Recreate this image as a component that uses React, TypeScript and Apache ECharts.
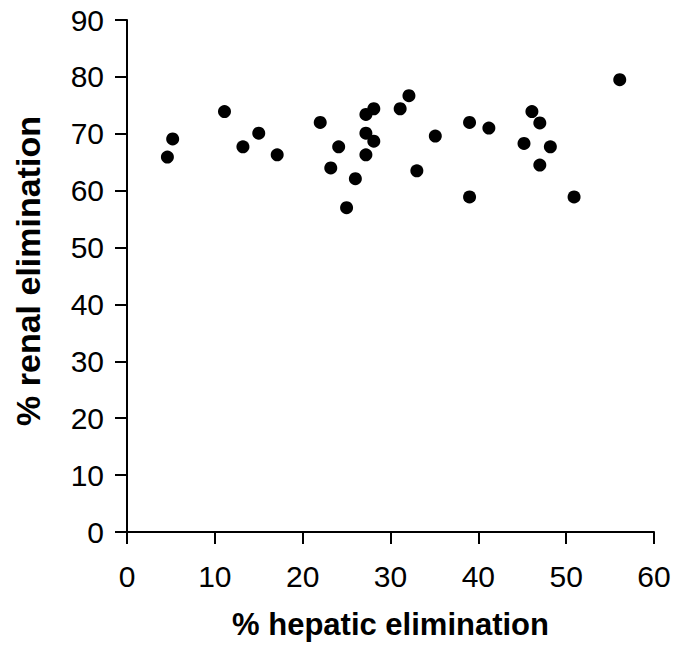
import React, { useEffect, useRef } from "react";
import * as echarts from "echarts";

// Percentage of elimination through the liver (x) and kidneys (y), one entry per compound
const hepatic: number[] = [
  4.6, 5.2, 11.1, 13.2, 15.0, 17.1, 22.0, 24.1, 23.2, 26.0, 25.0, 27.2, 28.1, 27.2, 28.1,
  27.2, 31.1, 32.1, 35.1, 33.0, 39.0, 39.0, 41.2, 46.1, 47.0, 45.2, 48.2, 47.0, 50.9, 56.1,
];
const renal: number[] = [
  65.9, 69.1, 73.9, 67.7, 70.1, 66.3, 72.0, 67.7, 64.0, 62.1, 57.0, 73.4, 74.4, 70.1, 68.7,
  66.3, 74.4, 76.7, 69.6, 63.5, 72.0, 58.9, 71.0, 73.9, 71.9, 68.3, 67.7, 64.5, 58.9, 79.5,
];

const xTicks = { min: 0, max: 60, interval: 10 };
const yTicks = { min: 0, max: 90, interval: 10 };

const FONT = "'Liberation Sans', Arial, Helvetica, sans-serif";

export default function App() {
  const ref = useRef<HTMLDivElement>(null);

  useEffect(() => {
    if (!ref.current) return;
    const chart = echarts.init(ref.current, undefined, { renderer: "svg" });
    const points = hepatic.map((h, i) => [h, renal[i]]);

    const axisCommon = {
      axisLine: { show: true, onZero: false, lineStyle: { color: "#000", width: 2 } },
      axisTick: { show: true, inside: false, length: 12, lineStyle: { color: "#000", width: 2 } },
      splitLine: { show: false },
      nameLocation: "middle" as const,
    };

    chart.setOption({
      animation: false,
      backgroundColor: "#fff",
      grid: { left: 127, right: 21, top: 20, bottom: 114, containLabel: false },
      xAxis: {
        type: "value",
        ...xTicks,
        ...axisCommon,
        name: "% hepatic elimination",
        nameGap: 77,
        nameTextStyle: { fontFamily: FONT, fontSize: 31, fontWeight: "bold", color: "#000" },
        axisLabel: { fontFamily: FONT, fontSize: 30, color: "#000", margin: 29 },
      },
      yAxis: {
        type: "value",
        ...yTicks,
        ...axisCommon,
        name: "% renal elimination",
        nameGap: 82,
        nameTextStyle: {
          fontFamily: FONT,
          fontSize: 34,
          fontWeight: "bold",
          color: "#000",
          padding: [0, 0, 0, 10],
        },
        axisLabel: { fontFamily: FONT, fontSize: 30, color: "#000", margin: 23 },
      },
      series: [
        {
          type: "scatter",
          data: points,
          symbol: "circle",
          symbolSize: 13,
          itemStyle: { color: "#000", opacity: 1 },
        },
      ],
    });

    return () => chart.dispose();
  }, []);

  return (
    <div
      ref={ref}
      style={{ position: "fixed", left: 0, top: 0, width: 675, height: 646 }}
    />
  );
}
